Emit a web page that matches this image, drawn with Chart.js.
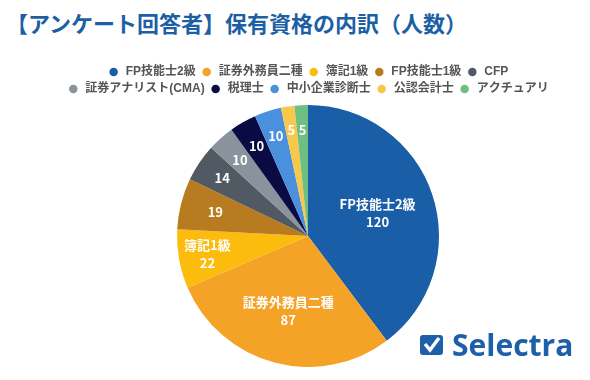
<!DOCTYPE html>
<html>
<head>
<meta charset="utf-8">
<script src="https://cdn.jsdelivr.net/npm/chart.js@4.4.1/dist/chart.umd.min.js"></script>
<style>
  body { margin: 0; width: 590px; height: 380px; background: #fff; overflow: hidden; position: relative; font-family: "Noto Sans CJK JP", sans-serif; }
  #title { position: absolute; left: 6px; top: 6px; font-size: 22px; font-weight: bold; color: #1d5fa4; white-space: nowrap; }
  #wrap { position: absolute; left: 38px; top: 61px; width: 540px; height: 306px; }
  #logo { position: absolute; left: 420px; top: 330px; display: flex; align-items: center; }
  #logo .box { width: 23px; height: 20px; background: #1d5fa8; border-radius: 3px; }
  #logo .txt { font-family: "Open Sans", sans-serif; font-weight: bold; font-size: 30px; color: #1d5fa8; margin-left: 9px; line-height: 1; }
</style>
</head>
<body>
<div id="title">【アンケート回答者】保有資格の内訳（人数）</div>
<div id="wrap"><canvas id="pieChart"></canvas></div>
<div id="logo">
  <div class="box"><svg width="23" height="20" viewBox="0 0 23 20"><path d="M5 9 L10 15 L19 3" stroke="#fff" stroke-width="3.5" fill="none"/></svg></div>
  <div class="txt">Selectra</div>
</div>
<script>
const categories = ['FP技能士2級', '証券外務員二種', '簿記1級', 'FP技能士1級', 'CFP', '証券アナリスト(CMA)', '税理士', '中小企業診断士', '公認会計士', 'アクチュアリ'];
const counts = [120, 87, 22, 19, 14, 10, 10, 10, 5, 5];
const colors = ['#1a5ea8', '#f4a326', '#fbbc0e', '#b97b20', '#515a63', '#8a939c', '#0a0b42', '#4a90dc', '#f8c84c', '#6fbf82'];
const showName = [true, true, true, false, false, false, false, false, false, false];
const labelRadius = [0.56, 0.59, 0.78, 0.73, 0.79, 0.78, 0.79, 0.8, 0.82, 0.81];

const sliceLabels = {
    id: 'sliceLabels',
    afterDatasetsDraw(chart) {
        const ctx = chart.ctx;
        const meta = chart.getDatasetMeta(0);
        ctx.save();
        ctx.fillStyle = '#fff';
        ctx.font = 'bold 13px "Noto Sans CJK JP"';
        ctx.textAlign = 'center';
        ctx.textBaseline = 'middle';
        meta.data.forEach((arc, i) => {
            const p = arc.getProps(['x', 'y', 'startAngle', 'endAngle', 'outerRadius'], true);
            const mid = (p.startAngle + p.endAngle) / 2;
            const r = p.outerRadius * labelRadius[i];
            const x = p.x + Math.cos(mid) * r;
            const y = p.y + Math.sin(mid) * r;
            if (showName[i]) {
                ctx.fillText(categories[i], x, y - 9);
                ctx.fillText(counts[i], x, y + 9);
            } else {
                ctx.fillText(counts[i], x, y);
            }
        });
        ctx.restore();
    }
};

new Chart(document.getElementById('pieChart').getContext('2d'), {
    type: 'pie',
    data: {
        labels: categories,
        datasets: [{
            data: counts,
            backgroundColor: colors,
            borderWidth: 0
        }]
    },
    options: {
        responsive: true,
        maintainAspectRatio: false,
        animation: false,
        layout: { padding: 0 },
        plugins: {
            tooltip: { enabled: false },
            legend: {
                position: 'top',
                labels: {
                    usePointStyle: true,
                    boxWidth: 18,
                    boxHeight: 6,
                    padding: 5,
                    color: '#555',
                    font: { size: 12, weight: 'bold', family: '"Liberation Sans", "Noto Sans CJK JP"' }
                }
            }
        }
    },
    plugins: [sliceLabels]
});
</script>
</body>
</html>
